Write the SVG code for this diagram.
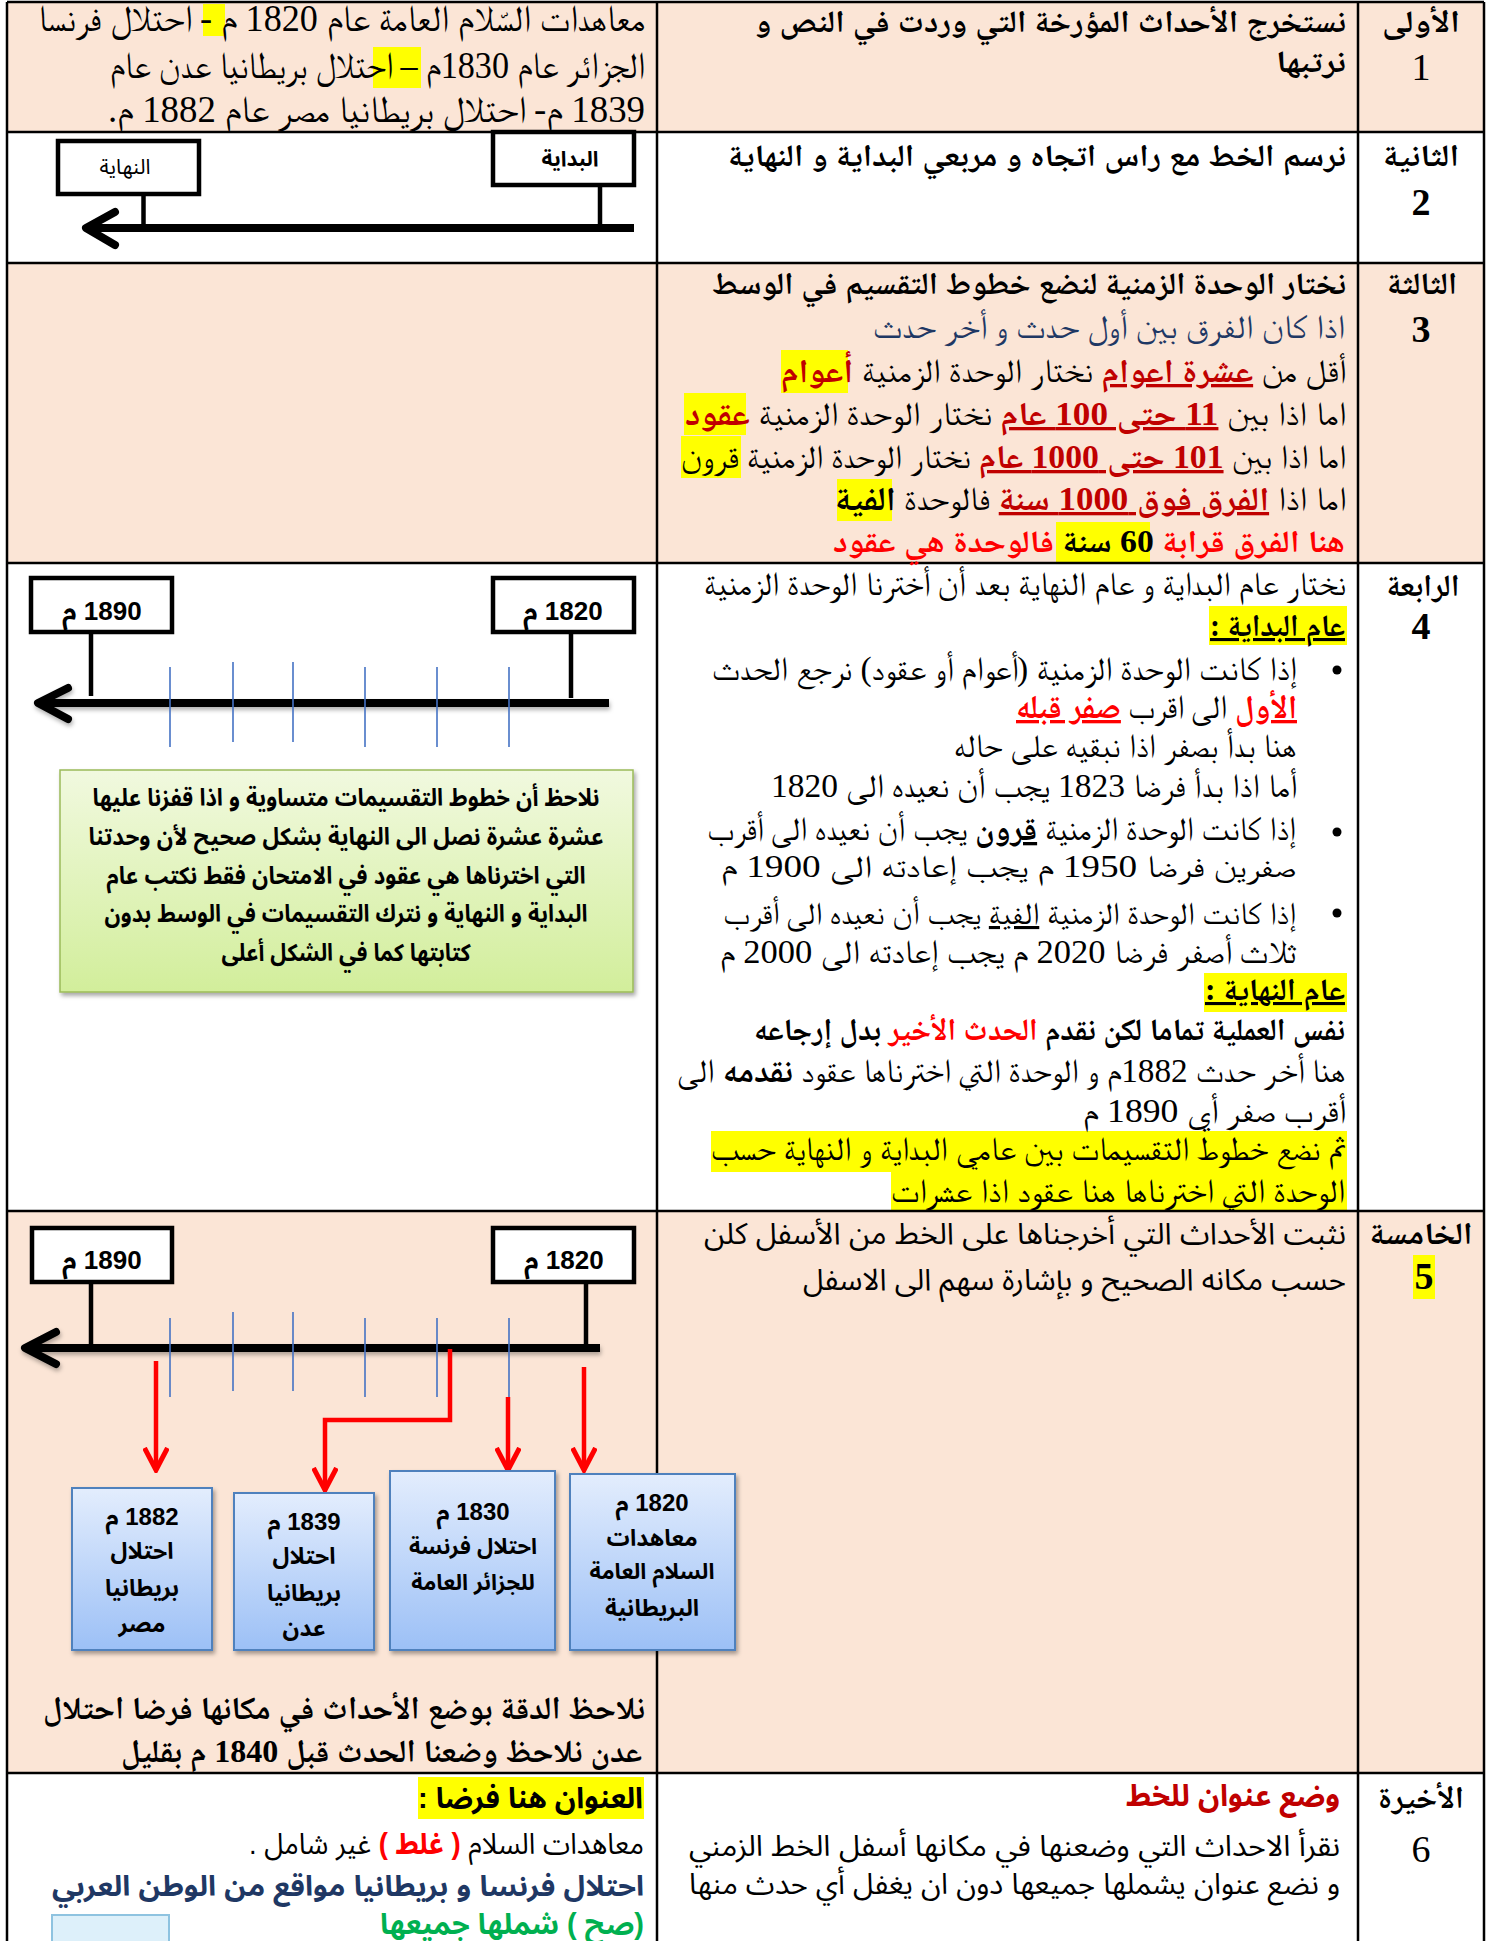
<svg xmlns="http://www.w3.org/2000/svg" width="1491" height="1941" viewBox="0 0 1491 1941">
<defs>
<style>
.r{font-family:"Liberation Serif","FreeSerif","Noto Naskh Arabic","DejaVu Sans",serif;font-size:33px;direction:rtl;fill:#000;text-anchor:middle}
.b{font-family:"Liberation Serif","Noto Naskh Arabic","DejaVu Sans",serif;font-weight:bold}
.h{font-size:31px}
.s{font-family:"Liberation Sans","Noto Sans Arabic","DejaVu Sans",sans-serif;font-size:30px;direction:rtl;fill:#000;text-anchor:middle}
.sb{font-family:"Liberation Sans","Noto Sans Arabic","DejaVu Sans",sans-serif;font-weight:bold}
.dr{fill:#C00000}
.rd{fill:#FF0000}
.nv{fill:#1F3864}
.gr{fill:#00B050}
.k{fill:#000}
.u{text-decoration:underline}
.grid{stroke:#000;stroke-width:2.5;fill:none}
.peach{fill:#FBE5D6}
.hl{fill:#FFFF00}
.box{fill:#fff;stroke:#000;stroke-width:4.5}
.tl{stroke:#000;stroke-width:8;fill:none;stroke-linecap:butt}
.ah{stroke:#000;stroke-width:8;fill:none;stroke-linecap:round;stroke-linejoin:round}
.pin{stroke:#000;stroke-width:4.5}
.tick{stroke:#4472C4;stroke-width:1.6}
.red{stroke:#FF0000;stroke-width:4.5;fill:none}
.ev{fill:url(#gBlue);stroke:#4F81BD;stroke-width:2}
.bt{font-family:"Liberation Sans","Noto Sans Arabic","DejaVu Sans",sans-serif;font-weight:bold;direction:rtl;text-anchor:middle}
</style>
<linearGradient id="gBlue" x1="0" y1="0" x2="0" y2="1">
<stop offset="0" stop-color="#E3EDFD"/>
<stop offset="1" stop-color="#9CC0F6"/>
</linearGradient>
<linearGradient id="gGreen" x1="0" y1="0" x2="0" y2="1">
<stop offset="0" stop-color="#F1F9DF"/>
<stop offset="1" stop-color="#D2EE9B"/>
</linearGradient>
<filter id="sh" x="-10%" y="-10%" width="130%" height="130%">
<feDropShadow dx="2" dy="3" stdDeviation="2" flood-color="#000" flood-opacity="0.35"/>
</filter>
<filter id="sh2" x="-5%" y="-50%" width="110%" height="250%">
<feDropShadow dx="1" dy="3" stdDeviation="2" flood-color="#000" flood-opacity="0.3"/>
</filter>
<marker id="vh" viewBox="0 0 26 26" refX="23" refY="13" markerWidth="26" markerHeight="26" markerUnits="userSpaceOnUse" orient="auto">
<path d="M1,1.5 L23,13 L1,24.5" fill="none" stroke="#FF0000" stroke-width="5"/>
</marker>
</defs>

<rect width="1491" height="1941" fill="#fff"/>

<g id="backgrounds">
<rect class="peach" x="7" y="2" width="1477" height="130"/>
<rect class="peach" x="7" y="263" width="1477" height="300"/>
<rect class="peach" x="7" y="1211" width="1477" height="562"/>
</g>

<g id="highlights">
<rect class="hl" x="203" y="4" width="22" height="32"/>
<rect class="hl" x="373" y="47" width="48" height="41"/>
<rect class="hl" x="781" y="350" width="67" height="43"/>
<rect class="hl" x="684" y="393" width="62" height="42"/>
<rect class="hl" x="681" y="436" width="60" height="42"/>
<rect class="hl" x="837" y="479" width="55" height="42"/>
<rect class="hl" x="1056" y="522" width="94" height="41"/>
<rect class="hl" x="1209" y="606" width="138" height="39"/>
<rect class="hl" x="1204" y="973" width="143" height="39"/>
<rect class="hl" x="711" y="1131" width="636" height="41"/>
<rect class="hl" x="891" y="1172" width="456" height="39"/>
<rect class="hl" x="1413" y="1255" width="22" height="44"/>
<rect class="hl" x="418" y="1777" width="226" height="42"/>
</g>

<g id="grid">
<line class="grid" x1="7" y1="2" x2="1484" y2="2"/>
<line class="grid" x1="7" y1="132" x2="1484" y2="132"/>
<line class="grid" x1="7" y1="263" x2="1484" y2="263"/>
<line class="grid" x1="7" y1="563" x2="1484" y2="563"/>
<line class="grid" x1="7" y1="1211" x2="1484" y2="1211"/>
<line class="grid" x1="7" y1="1773" x2="1484" y2="1773"/>
<line class="grid" x1="7" y1="2" x2="7" y2="1941"/>
<line class="grid" x1="657" y1="2" x2="657" y2="1941"/>
<line class="grid" x1="1358" y1="2" x2="1358" y2="1941"/>
<line class="grid" x1="1484" y1="2" x2="1484" y2="1941"/>
</g>

<g id="step-labels">
<text class="r b h" x="1421" y="32" textLength="78" lengthAdjust="spacingAndGlyphs">الأولى</text>
<text class="r" x="1421" y="80" style="font-size:38px">1</text>
<text class="r b h" x="1421" y="166" textLength="76" lengthAdjust="spacingAndGlyphs">الثانية</text>
<text class="r b" x="1421" y="215" style="font-size:38px">2</text>
<text class="r b h" x="1422" y="294" textLength="70" lengthAdjust="spacingAndGlyphs">الثالثة</text>
<text class="r b" x="1421" y="342" style="font-size:38px">3</text>
<text class="r b h" x="1423" y="596" textLength="73" lengthAdjust="spacingAndGlyphs">الرابعة</text>
<text class="r b" x="1421" y="639" style="font-size:38px">4</text>
<text class="r b h" x="1421" y="1244" textLength="103" lengthAdjust="spacingAndGlyphs">الخامسة</text>
<text class="r b" x="1424" y="1289" style="font-size:38px">5</text>
<text class="r b h" x="1421" y="1808" textLength="86" lengthAdjust="spacingAndGlyphs">الأخيرة</text>
<text class="r" x="1421" y="1862" style="font-size:38px">6</text>
</g>

<g id="row1">
<text class="r b h" x="1050.5" y="32" textLength="591" lengthAdjust="spacingAndGlyphs">نستخرج الأحداث المؤرخة التي وردت في النص و</text>
<text class="r b h" x="1311" y="72" textLength="70" lengthAdjust="spacingAndGlyphs">نرتبها</text>
<text class="r" x="341.5" y="31" style="font-size:37px" textLength="607" lengthAdjust="spacingAndGlyphs">معاهدات السّلام العامة عام 1820 م - احتلال فرنسا</text>
<text class="r" x="377.5" y="78" style="font-size:37px" textLength="535" lengthAdjust="spacingAndGlyphs">الجزائر عام 1830م – احتلال بريطانيا عدن عام</text>
<text class="r" x="376.5" y="122" style="font-size:37px" textLength="537" lengthAdjust="spacingAndGlyphs">1839 م- احتلال بريطانيا مصر عام 1882 م.</text>
</g>

<g id="row2">
<text class="r b h" x="1037" y="166" textLength="618" lengthAdjust="spacingAndGlyphs">نرسم الخط مع راس اتجاه و مربعي البداية و النهاية</text>
</g>

<g id="timeline-step2">
<line class="pin" x1="600" y1="185" x2="600" y2="228"/>
<line class="pin" x1="143.5" y1="194" x2="143.5" y2="228"/>
<line class="tl" x1="634" y1="228" x2="88" y2="228"/>
<polyline class="ah" points="115,212 86,228 115,245"/>
<rect class="box" x="493" y="132" width="141" height="53"/>
<rect class="box" x="58" y="141" width="141" height="53"/>
<text class="bt" x="570" y="166" style="font-size:21px">البداية</text>
<text class="s" x="125" y="174" style="font-size:21px">النهاية</text>
</g>

<g id="row3">
<text class="r b h" x="1029" y="294" textLength="634" lengthAdjust="spacingAndGlyphs">نختار الوحدة الزمنية لنضع خطوط التقسيم في الوسط</text>
<text class="r nv" x="1109" y="338" textLength="472" lengthAdjust="spacingAndGlyphs">اذا كان الفرق بين أول حدث و أخر حدث</text>
<text class="r" x="1063" y="382" textLength="564" lengthAdjust="spacingAndGlyphs">أقل من <tspan class="b dr u">عشرة اعوام</tspan> نختار الوحدة الزمنية <tspan class="b dr">أعوام</tspan></text>
<text class="r" x="1015" y="425" textLength="660" lengthAdjust="spacingAndGlyphs">اما اذا بين <tspan class="b dr u">11 حتى 100 عام</tspan> نختار الوحدة الزمنية <tspan class="b dr">عقود</tspan></text>
<text class="r" x="1013" y="468" textLength="664" lengthAdjust="spacingAndGlyphs">اما اذا بين <tspan class="b dr u">101 حتى 1000 عام</tspan> نختار الوحدة الزمنية قرون</text>
<text class="r" x="1090" y="510" textLength="510" lengthAdjust="spacingAndGlyphs">اما اذا <tspan class="b dr u">الفرق فوق 1000 سنة</tspan> فالوحدة <tspan class="b">الفية</tspan></text>
<text class="r b h rd" x="1089" y="552" textLength="512" lengthAdjust="spacingAndGlyphs">هنا الفرق قرابة <tspan class="k">60 سنة</tspan> فالوحدة هي عقود</text>
</g>

<g id="row4">
<text class="r" x="1025" y="595" textLength="642" lengthAdjust="spacingAndGlyphs">نختار عام البداية و عام النهاية بعد أن أخترنا الوحدة الزمنية</text>
<text class="r b h u" x="1277.5" y="636" textLength="135" lengthAdjust="spacingAndGlyphs">عام البداية :</text>
<circle cx="1337" cy="670" r="4.5"/>
<circle cx="1337" cy="832" r="4.5"/>
<circle cx="1337" cy="913" r="4.5"/>
<text class="r" x="1004.5" y="680" textLength="585" lengthAdjust="spacingAndGlyphs">إذا كانت الوحدة الزمنية (أعوام أو عقود) نرجع الحدث</text>
<text class="r" x="1156.5" y="718" textLength="281" lengthAdjust="spacingAndGlyphs"><tspan class="b rd u">الأول</tspan> الى اقرب <tspan class="b rd u">صفر قبله</tspan></text>
<text class="r" x="1125" y="757" textLength="342" lengthAdjust="spacingAndGlyphs">هنا بدأ بصفر اذا نبقيه على حاله</text>
<text class="r" x="1033.5" y="797" textLength="525" lengthAdjust="spacingAndGlyphs">أما اذا بدأ فرضا 1823 يجب أن نعيده الى 1820</text>
<text class="r" x="1002" y="840" textLength="588" lengthAdjust="spacingAndGlyphs">إذا كانت الوحدة الزمنية <tspan class="b u">قرون</tspan> يجب أن نعيده الى أقرب</text>
<text class="r" x="1008.5" y="877" style="font-size:31px" textLength="575" lengthAdjust="spacingAndGlyphs">صفرين فرضا 1950 م يجب إعادته الى 1900 م</text>
<text class="r" x="1010" y="924" style="font-size:31px" textLength="572" lengthAdjust="spacingAndGlyphs">إذا كانت الوحدة الزمنية <tspan class="u">الفية</tspan> يجب أن نعيده الى أقرب</text>
<text class="r" x="1008" y="963" textLength="576" lengthAdjust="spacingAndGlyphs">ثلاث أصفر فرضا 2020 م يجب إعادته الى 2000 م</text>
<text class="r b h u" x="1275" y="1000" textLength="140" lengthAdjust="spacingAndGlyphs">عام النهاية :</text>
<text class="r b h" x="1049.5" y="1040" textLength="591" lengthAdjust="spacingAndGlyphs">نفس العملية تماما لكن نقدم <tspan class="rd">الحدث الأخير</tspan> بدل إرجاعه</text>
<text class="r" x="1011" y="1082" textLength="668" lengthAdjust="spacingAndGlyphs">هنا أخر حدث 1882م و الوحدة التي اخترناها عقود <tspan class="b">نقدمه</tspan> الى</text>
<text class="r" x="1214" y="1122" textLength="262" lengthAdjust="spacingAndGlyphs">أقرب صفر أي 1890 م</text>
<text class="r" x="1028" y="1160" textLength="634" lengthAdjust="spacingAndGlyphs">ثم نضع خطوط التقسيمات بين عامي البداية و النهاية حسب</text>
<text class="r" x="1118" y="1202" textLength="454" lengthAdjust="spacingAndGlyphs">الوحدة التي اخترناها هنا عقود اذا عشرات</text>
</g>

<g id="timeline-step4">
<line class="pin" x1="91" y1="632" x2="91" y2="696"/>
<line class="pin" x1="571" y1="632" x2="571" y2="698"/>
<g filter="url(#sh2)">
<line class="tl" x1="609" y1="703" x2="40" y2="703"/>
<polyline class="ah" points="68,688 38,703 68,719"/>
</g>
<line class="tick" x1="170" y1="667" x2="170" y2="747"/>
<line class="tick" x1="233" y1="662" x2="233" y2="742"/>
<line class="tick" x1="293" y1="662" x2="293" y2="742"/>
<line class="tick" x1="365" y1="667" x2="365" y2="747"/>
<line class="tick" x1="437" y1="667" x2="437" y2="747"/>
<line class="tick" x1="509" y1="667" x2="509" y2="747"/>
<rect class="box" x="31" y="578" width="141" height="54"/>
<rect class="box" x="493" y="578" width="141" height="54"/>
<text class="bt" x="102" y="620" style="font-size:26px">1890 م</text>
<text class="bt" x="563" y="620" style="font-size:26px">1820 م</text>
</g>

<g id="note-step4">
<rect x="60" y="770" width="573" height="222" fill="url(#gGreen)" stroke="#9BBB59" stroke-width="1.5" filter="url(#sh)"/>
<text class="s sb" x="346" y="806" style="font-size:24px" textLength="507" lengthAdjust="spacingAndGlyphs">نلاحظ أن خطوط التقسيمات متساوية و اذا قفزنا عليها</text>
<text class="s sb" x="346" y="845" style="font-size:24px" textLength="515" lengthAdjust="spacingAndGlyphs">عشرة عشرة نصل الى النهاية بشكل صحيح لأن وحدتنا</text>
<text class="s sb" x="346" y="884" style="font-size:24px" textLength="479" lengthAdjust="spacingAndGlyphs">التي اخترناها هي عقود في الامتحان فقط نكتب عام</text>
<text class="s sb" x="346" y="922" style="font-size:24px" textLength="483" lengthAdjust="spacingAndGlyphs">البداية و النهاية و نترك التقسيمات في الوسط بدون</text>
<text class="s sb" x="346" y="961" style="font-size:24px" textLength="249" lengthAdjust="spacingAndGlyphs">كتابتها كما في الشكل أعلى</text>
</g>

<g id="row5">
<text class="s" x="1025" y="1244" textLength="642" lengthAdjust="spacingAndGlyphs">نثبت الأحداث التي أخرجناها على الخط من الأسفل كلن</text>
<text class="s" x="1074.5" y="1290" textLength="543" lengthAdjust="spacingAndGlyphs">حسب مكانه الصحيح و بإشارة سهم الى الاسفل</text>
<text class="r b" x="344" y="1719" style="font-size:32px" textLength="602" lengthAdjust="spacingAndGlyphs">نلاحظ الدقة بوضع الأحداث في مكانها فرضا احتلال</text>
<text class="r b" x="381.5" y="1762" style="font-size:32px" textLength="521" lengthAdjust="spacingAndGlyphs">عدن نلاحظ وضعنا الحدث قبل 1840 م بقليل</text>
</g>

<g id="timeline-step5">
<line class="pin" x1="91" y1="1282" x2="91" y2="1344"/>
<line class="pin" x1="586" y1="1282" x2="586" y2="1344"/>
<g filter="url(#sh2)">
<line class="tl" x1="600" y1="1348" x2="27" y2="1348"/>
<polyline class="ah" points="56,1332 25,1348 56,1364"/>
</g>
<line class="tick" x1="170" y1="1318" x2="170" y2="1397"/>
<line class="tick" x1="233" y1="1312" x2="233" y2="1391"/>
<line class="tick" x1="293" y1="1312" x2="293" y2="1391"/>
<line class="tick" x1="365" y1="1318" x2="365" y2="1397"/>
<line class="tick" x1="437" y1="1318" x2="437" y2="1397"/>
<line class="tick" x1="509" y1="1318" x2="509" y2="1397"/>
<rect class="box" x="32" y="1228" width="140" height="54"/>
<rect class="box" x="493" y="1228" width="141" height="54"/>
<text class="bt" x="102" y="1269" style="font-size:26px">1890 م</text>
<text class="bt" x="564" y="1269" style="font-size:26px">1820 م</text>
</g>

<g id="connectors">
<path class="red" d="M156,1361 V1470" marker-end="url(#vh)"/>
<path class="red" d="M450,1349 V1420 H325 V1490" marker-end="url(#vh)"/>
<path class="red" d="M508,1397 V1470" marker-end="url(#vh)"/>
<path class="red" d="M584,1367 V1470" marker-end="url(#vh)"/>
</g>

<g id="event-1882">
<rect class="ev" x="72" y="1488" width="140" height="162" filter="url(#sh)"/>
<text class="bt" x="142" y="1525" style="font-size:24px">1882 م</text>
<text class="bt" x="142" y="1559" style="font-size:23px">احتلال</text>
<text class="bt" x="142" y="1596" style="font-size:23px">بريطانيا</text>
<text class="bt" x="142" y="1632" style="font-size:23px">مصر</text>
</g>
<g id="event-1839">
<rect class="ev" x="234" y="1493" width="140" height="157" filter="url(#sh)"/>
<text class="bt" x="304" y="1530" style="font-size:24px">1839 م</text>
<text class="bt" x="304" y="1564" style="font-size:23px">احتلال</text>
<text class="bt" x="304" y="1601" style="font-size:23px">بريطانيا</text>
<text class="bt" x="304" y="1636" style="font-size:23px">عدن</text>
</g>
<g id="event-1830">
<rect class="ev" x="390" y="1471" width="165" height="179" filter="url(#sh)"/>
<text class="bt" x="473" y="1520" style="font-size:24px">1830 م</text>
<text class="bt" x="473" y="1554" style="font-size:22px">احتلال فرنسة</text>
<text class="bt" x="473" y="1590" style="font-size:22px">للجزائر العامة</text>
</g>
<g id="event-1820">
<rect class="ev" x="570" y="1474" width="165" height="176" filter="url(#sh)"/>
<text class="bt" x="652" y="1511" style="font-size:24px">1820 م</text>
<text class="bt" x="652" y="1546" style="font-size:23px">معاهدات</text>
<text class="bt" x="652" y="1579" style="font-size:22px">السلام العامة</text>
<text class="bt" x="652" y="1616" style="font-size:23px">البريطانية</text>
</g>

<g id="row6">
<text class="s sb dr" x="1233" y="1806" style="font-size:30px" textLength="214" lengthAdjust="spacingAndGlyphs">وضع عنوان للخط</text>
<text class="s" x="1014.5" y="1856" style="font-size:29px" textLength="651" lengthAdjust="spacingAndGlyphs">نقرأ الاحداث التي وضعنها في مكانها أسفل الخط الزمني</text>
<text class="s" x="1014.5" y="1894" style="font-size:29px" textLength="651" lengthAdjust="spacingAndGlyphs">و نضع عنوان يشملها جميعها دون ان يغفل أي حدث منها</text>
<text class="s sb" x="530.5" y="1808" style="font-size:29px" textLength="225" lengthAdjust="spacingAndGlyphs">العنوان هنا فرضا :</text>
<text class="s" x="446.5" y="1854" style="font-size:29px" textLength="395" lengthAdjust="spacingAndGlyphs">معاهدات السلام <tspan class="sb rd">( غلط )</tspan> غير شامل .</text>
<text class="s sb nv" x="348" y="1896" style="font-size:28px" textLength="592" lengthAdjust="spacingAndGlyphs">احتلال فرنسا و بريطانيا مواقع من الوطن العربي</text>
<text class="s sb gr" x="512" y="1934" style="font-size:29px" textLength="264" lengthAdjust="spacingAndGlyphs">(صح ) شملها جميعها</text>
<rect x="52" y="1915" width="117" height="40" fill="#DDF0FA" stroke="#8EC3E0" stroke-width="2"/>
</g>
</svg>
